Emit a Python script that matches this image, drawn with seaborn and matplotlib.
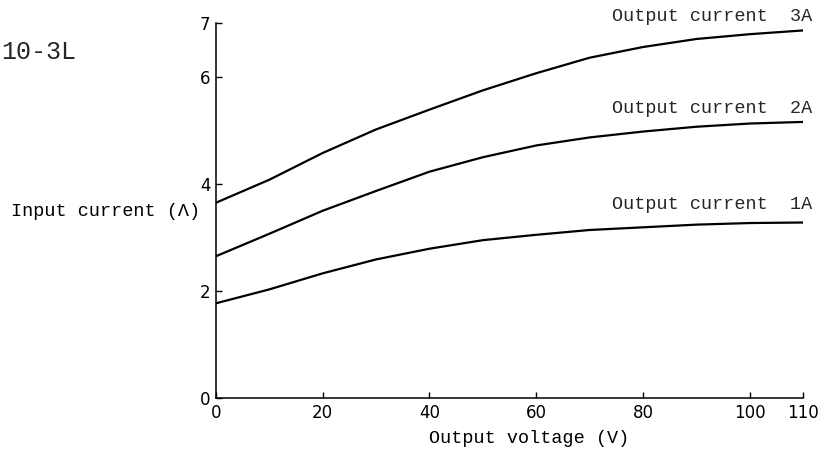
import pandas as pd
import seaborn as sns
import matplotlib.pyplot as plt

# output voltage (V) and input current (A) for each output current
voltage = [0, 10, 20, 30, 40, 50, 60, 70, 80, 90, 100, 110]
current_3a = [3.65, 4.08, 4.58, 5.02, 5.39, 5.75, 6.07, 6.36, 6.56, 6.71, 6.80, 6.87]
current_2a = [2.65, 3.07, 3.50, 3.87, 4.23, 4.50, 4.72, 4.87, 4.98, 5.07, 5.13, 5.16]
current_1a = [1.77, 2.03, 2.33, 2.59, 2.79, 2.95, 3.05, 3.14, 3.19, 3.24, 3.27, 3.28]
series_names = ["Output current  3A", "Output current  2A", "Output current  1A"]
label_pos = [(74.2, 7.13), (74.2, 5.41), (74.2, 3.61)]

x_ticks = [0, 20, 40, 60, 80, 100, 110]
y_ticks = [0, 2, 4, 6, 7]

sns.set_theme(style="ticks")
plt.rcParams["font.family"] = ["DejaVu Sans"]
mono = ["Liberation Mono", "DejaVu Sans Mono"]

df = pd.concat([
    pd.DataFrame({"voltage": voltage, "current": vals, "series": name})
    for vals, name in zip([current_3a, current_2a, current_1a], series_names)
])

fig = plt.figure(figsize=(8.27, 4.5), dpi=100)
ax = fig.add_axes([0.2612, 0.1156, 0.7098, 0.8322])

sns.lineplot(data=df, x="voltage", y="current", hue="series",
             palette=["black"] * 3, linewidth=1.6, legend=False, ax=ax)

ax.set_xlim(0, 110)
ax.set_ylim(0, 7)
ax.set_xticks(x_ticks)
ax.set_yticks(y_ticks)
ax.tick_params(direction="in", length=4, width=1, labelsize=12, colors="black", pad=4)
sns.despine(ax=ax)
for s in ["left", "bottom"]:
    ax.spines[s].set_linewidth(1.1)
    ax.spines[s].set_color("black")

ax.set_xlabel("Output voltage (V)", family=mono, fontsize=13.3, color="black")
ax.xaxis.set_label_coords(0.533, -0.085)
ax.set_ylabel("Input current (Λ)", family=mono, fontsize=13.3, rotation=0,
              ha="right", va="center", color="black")
ax.yaxis.set_label_coords(-0.027, 0.497)

for name, (lx, ly) in zip(series_names, label_pos):
    ax.text(lx, ly, name, family=mono, fontsize=13.3, ha="left", va="center",
            clip_on=False)

fig.text(0.002, 0.884, "10-3L", family=mono, fontsize=18, ha="left", va="center")

fig.savefig("out.png", dpi=100, facecolor="white")
